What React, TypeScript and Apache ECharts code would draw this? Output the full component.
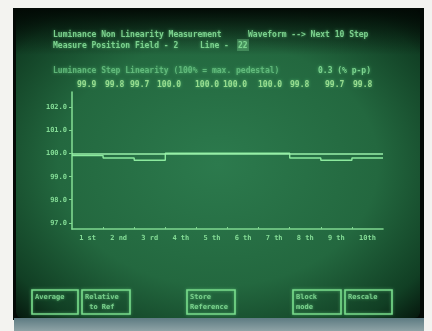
import React, { useEffect, useRef } from "react";
import * as echarts from "echarts";

const categories = ["1 st", "2 nd", "3 rd", "4 th", "5 th", "6 th", "7 th", "8 th", "9 th", "10th"];
const stepValues = [99.9, 99.8, 99.7, 100.0, 100.0, 100.0, 100.0, 99.8, 99.7, 99.8];
const valueLabels = ["99.9", "99.8", "99.7", "100.0", "100.0", "100.0", "100.0", "99.8", "99.7", "99.8"];
const referenceValue = 100.0;
const yTickValues = [97, 98, 99, 100, 101, 102];
const ppText = "0.3 (% p-p)";

const valueLabelX = [77, 105, 130, 157, 195, 223, 258, 290, 325, 353];

const GREEN = "#84dc96";
const FONT = "DejaVu Sans Mono";

export default function App() {
  const ref = useRef<HTMLDivElement>(null);
  useEffect(() => {
    const chart = echarts.init(ref.current!, null, { renderer: "svg" });
    const glow = { textShadowColor: "rgba(120,255,150,0.55)", textShadowBlur: 3 };
    const txt = (x: number, y: number, text: string, extra: any = {}) => ({
      type: "text",
      x,
      y,
      z: 10,
      style: {
        text,
        fill: GREEN,
        font: `bold 8px ${FONT}`,
        textVerticalAlign: "middle",
        opacity: 0.9,
        ...glow,
        ...extra,
      },
    });
    const button = (x: number, w: number, lines: string[]) => ({
      type: "group",
      z: 10,
      children: [
        {
          type: "rect",
          shape: { x, y: 290, width: w, height: 24 },
          style: { fill: "none", stroke: "#79dc8c", lineWidth: 1.6, shadowColor: "rgba(120,255,150,0.5)", shadowBlur: 3 },
        },
        ...lines.map((l, i) => txt(x + 3, 297 + i * 10, l, { font: `bold 7px ${FONT}` })),
      ],
    });

    const stepData: number[][] = stepValues.map((v, i) => [i, v]);
    stepData.push([stepValues.length, stepValues[stepValues.length - 1]]);

    chart.setOption({
      animation: false,
      graphic: [
        { type: "rect", z: -10, shape: { x: 0, y: 0, width: 432, height: 331 }, style: { fill: "#f3f3f0" } },
        { type: "rect", z: -9, shape: { x: 13, y: 8, width: 411, height: 312 }, style: { fill: "#040a06" } },
        {
          type: "rect",
          z: -8,
          shape: { x: 16, y: 10, width: 404, height: 308, r: 6 },
          style: {
            fill: new echarts.graphic.RadialGradient(0.5, 0.5, 0.72, [
              { offset: 0, color: "#2c7a4d" },
              { offset: 0.55, color: "#23683f" },
              { offset: 0.85, color: "#113f24" },
              { offset: 1, color: "#04120a" },
            ]),
          },
        },
        {
          type: "rect",
          z: -7,
          shape: { x: 16, y: 10, width: 404, height: 45 },
          style: {
            fill: new echarts.graphic.LinearGradient(0, 0, 0, 1, [
              { offset: 0, color: "rgba(2,10,5,0.95)" },
              { offset: 1, color: "rgba(2,10,5,0)" },
            ]),
          },
        },
        {
          type: "rect",
          z: -7,
          shape: { x: 14, y: 318, width: 410, height: 13 },
          style: {
            fill: new echarts.graphic.LinearGradient(0, 0, 0, 1, [
              { offset: 0, color: "#5d7b82" },
              { offset: 1, color: "#8ea3a6" },
            ]),
          },
        },
        txt(53, 34, "Luminance Non Linearity Measurement"),
        txt(248, 34, "Waveform --> Next 10 Step"),
        txt(53, 45, "Measure Position Field - 2"),
        txt(200, 45, "Line -"),
        { type: "rect", z: 9, shape: { x: 237, y: 39, width: 12, height: 12 }, style: { fill: "rgba(140,230,160,0.3)" } },
        txt(238, 45, "22"),
        txt(53, 70, "Luminance Step Linearity (100% = max. pedestal)", { fill: "#6cc484", opacity: 0.8 }),
        txt(318, 70, ppText),
        ...valueLabels.map((v, i) => txt(valueLabelX[i], 84, v, { fill: "#a2e496" })),
        button(32, 46, ["Average"]),
        button(82, 48, ["Relative", " to Ref"]),
        button(187, 48, ["Store", "Reference"]),
        button(293, 48, ["Block", "mode"]),
        button(345, 47, ["Rescale"]),
      ],
      grid: { left: 72, top: 92, width: 311, height: 137 },
      xAxis: {
        type: "value",
        min: 0,
        max: categories.length,
        axisLine: { show: true, lineStyle: { color: "#7fd890", width: 1.6 } },
        axisTick: {
          show: true,
          length: 2,
          inside: true,
          customValues: categories.map((_, i) => i).slice(1),
          lineStyle: { color: "#7fd890" },
        },
        splitLine: { show: false },
        axisLabel: {
          customValues: categories.map((_, i) => i + 0.5),
          formatter: (v: number) => categories[Math.floor(v)] ?? "",
          color: GREEN,
          fontFamily: FONT,
          fontWeight: "bold",
          fontSize: 7,
          margin: 5,
        },
      },
      yAxis: {
        type: "value",
        min: 96.74,
        max: 102.64,
        axisLine: { show: true, lineStyle: { color: "#7fd890", width: 1.6 } },
        axisTick: { show: true, length: 3, customValues: yTickValues, lineStyle: { color: "#7fd890" } },
        splitLine: { show: false },
        axisLabel: {
          customValues: yTickValues,
          formatter: (v: number) => v.toFixed(1),
          color: GREEN,
          fontFamily: FONT,
          fontWeight: "bold",
          fontSize: 7,
          margin: 5,
        },
      },
      series: [
        {
          type: "line",
          step: "end",
          data: stepData,
          symbol: "none",
          lineStyle: { color: "#8cea9e", width: 1.4 },
          markLine: {
            silent: true,
            symbol: "none",
            label: { show: false },
            lineStyle: { color: "#9af0aa", width: 1.6, type: "solid" },
            data: [{ yAxis: referenceValue }],
          },
        },
      ],
    });
    return () => chart.dispose();
  }, []);
  return <div ref={ref} style={{ position: "fixed", left: 0, top: 0, width: 432, height: 331 }} />;
}
